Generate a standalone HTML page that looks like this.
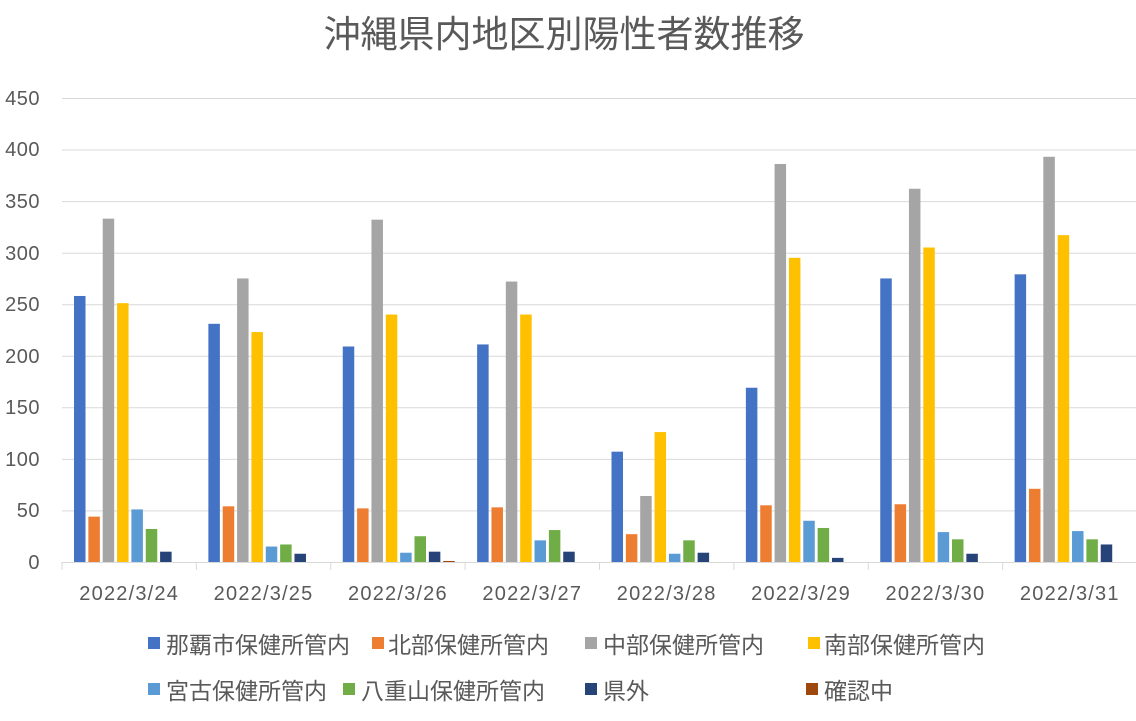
<!DOCTYPE html>
<html><head><meta charset="utf-8"><style>
html,body{margin:0;padding:0;background:#fff;}
svg text{font-family:"Liberation Sans","Noto Sans CJK JP",sans-serif;}
</style></head><body>
<svg width="1136" height="716" xmlns="http://www.w3.org/2000/svg">
<rect width="1136" height="716" fill="#fff"/>
<text x="564" y="47" font-size="37" fill="#595959" text-anchor="middle">沖縄県内地区別陽性者数推移</text>
<g id="grid" stroke="#d9d9d9" stroke-width="1">
<line x1="62" x2="1137" y1="98.5" y2="98.5"/>
<line x1="62" x2="1137" y1="150" y2="150"/>
<line x1="62" x2="1137" y1="201.6" y2="201.6"/>
<line x1="62" x2="1137" y1="253.2" y2="253.2"/>
<line x1="62" x2="1137" y1="304.7" y2="304.7"/>
<line x1="62" x2="1137" y1="356.3" y2="356.3"/>
<line x1="62" x2="1137" y1="407.8" y2="407.8"/>
<line x1="62" x2="1137" y1="459.4" y2="459.4"/>
<line x1="62" x2="1137" y1="510.9" y2="510.9"/>
</g>
<g font-size="20" fill="#595959" text-anchor="end" letter-spacing="0.5">
<text x="40" y="105">450</text><text x="40" y="156">400</text><text x="40" y="208">350</text>
<text x="40" y="260">300</text><text x="40" y="311">250</text><text x="40" y="363">200</text>
<text x="40" y="414">150</text><text x="40" y="466">100</text><text x="40" y="517">50</text>
<text x="40" y="569">0</text>
</g>
<g id="bars"></g>
<line x1="62" x2="1137" y1="562.5" y2="562.5" stroke="#d9d9d9"/>
<g id="ticks" stroke="#d9d9d9"></g>
<g id="xl" font-size="20" fill="#595959" text-anchor="middle" letter-spacing="1.2"></g>
<g font-size="23" fill="#595959">
<rect x="148" y="637" width="12" height="12" fill="#4472C4"/><text x="166" y="653">那覇市保健所管内</text>
<rect x="372" y="637" width="12" height="12" fill="#ED7D31"/><text x="388" y="653">北部保健所管内</text>
<rect x="585" y="637" width="12" height="12" fill="#A5A5A5"/><text x="603" y="653">中部保健所管内</text>
<rect x="808" y="637" width="12" height="12" fill="#FFC000"/><text x="824" y="653">南部保健所管内</text>
<rect x="148" y="683" width="12" height="12" fill="#5B9BD5"/><text x="166" y="699">宮古保健所管内</text>
<rect x="343" y="683" width="12" height="12" fill="#70AD47"/><text x="361" y="699">八重山保健所管内</text>
<rect x="585" y="683" width="12" height="12" fill="#264478"/><text x="603" y="699">県外</text>
<rect x="806" y="683" width="12" height="12" fill="#9E480E"/><text x="824" y="699">確認中</text>
</g>
<script>
var d=[[258,44,333,251,51,32,10,0],[231,54,275,223,15,17,8,0],[209,52,332,240,9,25,10,1],[211,53,272,240,21,31,10,0],[107,27,64,126,8,21,9,0],[169,55,386,295,40,33,4,0],[275,56,362,305,29,22,8,0],[279,71,393,317,30,22,17,0]];
var c=["#4472C4","#ED7D31","#A5A5A5","#FFC000","#5B9BD5","#70AD47","#264478","#9E480E"];
var labels=["2022/3/24","2022/3/25","2022/3/26","2022/3/27","2022/3/28","2022/3/29","2022/3/30","2022/3/31"];
var ns="http://www.w3.org/2000/svg",g=document.getElementById("bars"),t=document.getElementById("ticks"),xl=document.getElementById("xl");
var gw=(1137-62)/8,k=464/450;
for(var i=0;i<8;i++){var g0=62+gw*i;
for(var j=0;j<8;j++){var h=d[i][j]*k;if(h<=0)continue;var r=document.createElementNS(ns,"rect");
r.setAttribute("x",g0+12+j*14.35);r.setAttribute("width",11.5);r.setAttribute("y",562-h);r.setAttribute("height",h);r.setAttribute("fill",c[j]);g.appendChild(r);}
var l=document.createElementNS(ns,"line");l.setAttribute("x1",g0);l.setAttribute("x2",g0);l.setAttribute("y1",562);l.setAttribute("y2",570);t.appendChild(l);
var tx=document.createElementNS(ns,"text");tx.setAttribute("x",g0+gw/2);tx.setAttribute("y",600);tx.textContent=labels[i];xl.appendChild(tx);}
var l2=document.createElementNS(ns,"line");l2.setAttribute("x1",1136.5);l2.setAttribute("x2",1136.5);l2.setAttribute("y1",562);l2.setAttribute("y2",570);t.appendChild(l2);
</script>
</svg>
</body></html>
